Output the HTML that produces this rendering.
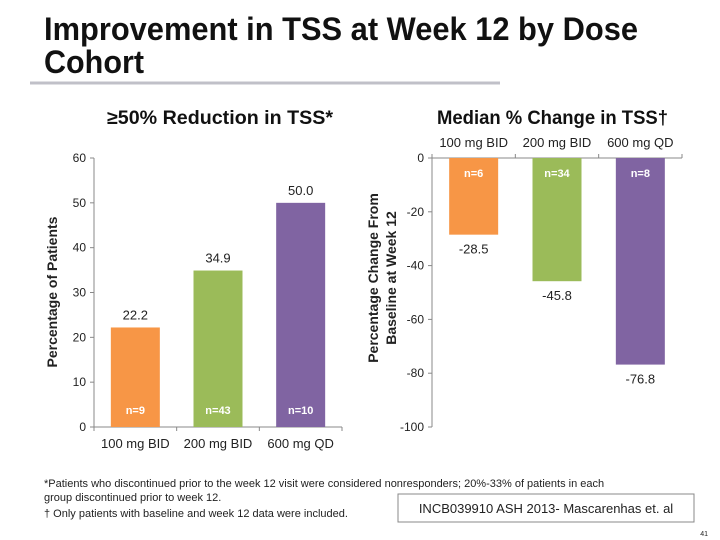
<!DOCTYPE html>
<html><head><meta charset="utf-8"><style>
body{margin:0;width:720px;height:540px;background:#fff;overflow:hidden;font-family:"Liberation Sans",sans-serif}
svg{position:absolute;left:0;top:0}
</style></head><body>
<svg width="720" height="540" xmlns="http://www.w3.org/2000/svg" font-family="Liberation Sans, sans-serif">
<text x="44" y="40" font-size="32" font-weight="bold" fill="#111" textLength="594" lengthAdjust="spacingAndGlyphs">Improvement in TSS at Week 12 by Dose</text>
<text x="44" y="73" font-size="32" font-weight="bold" fill="#111" textLength="100" lengthAdjust="spacingAndGlyphs">Cohort</text>
<line x1="30" y1="83" x2="500" y2="83" stroke="#c0c0c8" stroke-width="3"/>
<text x="107" y="124" font-size="19" font-weight="bold" fill="#111" textLength="226" lengthAdjust="spacingAndGlyphs">≥50% Reduction in TSS*</text>
<text x="437" y="124" font-size="19" font-weight="bold" fill="#111" textLength="231" lengthAdjust="spacingAndGlyphs">Median % Change in TSS†</text>
<g id="left"></g><g id="right"></g>
<text x="44" y="487" font-size="11" fill="#222">*Patients who discontinued prior to the week 12 visit were considered nonresponders; 20%-33% of patients in each</text>
<text x="44" y="501" font-size="11" fill="#222">group discontinued prior to week 12.</text>
<text x="44" y="517" font-size="11" fill="#222">† Only patients with baseline and week 12 data were included.</text>
<rect x="398" y="494" width="296" height="28" fill="#fff" stroke="#888"/>
<text x="546" y="513" font-size="13" text-anchor="middle" fill="#222">INCB039910 ASH 2013- Mascarenhas et. al</text>
<text x="708" y="536" font-size="7" text-anchor="end" fill="#222">41</text>
</svg>
<script>
const categories=["100 mg BID","200 mg BID","600 mg QD"];
const responseValues=[22.2,34.9,50.0];
const responseN=["n=9","n=43","n=10"];
const changeValues=[-28.5,-45.8,-76.8];
const changeN=["n=6","n=34","n=8"];
const leftTicks=[0,10,20,30,40,50,60];
const rightTicks=[0,-20,-40,-60,-80,-100];
const colors=["#f79646","#9bbb59","#8064a2"];
const NS="http://www.w3.org/2000/svg";
function mk(p,tag,a,txt){const e=document.createElementNS(NS,tag);for(const k in a)e.setAttribute(k,a[k]);if(txt!==undefined)e.textContent=txt;p.appendChild(e);return e;}
// left chart
const L=document.getElementById('left');
const lx0=94,lx1=342,ly=v=>427-v*(269/60),lcw=(lx1-lx0)/3;
let e=mk(L,'line',{x1:lx0,y1:ly(0),x2:lx0,y2:ly(60),stroke:'#888'});

e=mk(L,'line',{x1:lx0,y1:ly(0),x2:lx1,y2:ly(0),stroke:'#888'});

leftTicks.forEach(t=>{mk(L,'line',{x1:lx0-4,y1:ly(t),x2:lx0,y2:ly(t),stroke:'#888'});
 e=mk(L,'text',{x:lx0-8,y:ly(t)+4,'font-size':12,'text-anchor':'end',fill:'#222'},String(t));
 });
for(let i=0;i<=3;i++)mk(L,'line',{x1:lx0+i*lcw,y1:ly(0),x2:lx0+i*lcw,y2:ly(0)+4,stroke:'#888'});
categories.forEach((c,i)=>{const cx=lx0+lcw*(i+0.5),v=responseValues[i];
 e=mk(L,'rect',{x:cx-24.5,y:ly(v),width:49,height:ly(0)-ly(v),fill:colors[i]});
 
 e=mk(L,'text',{x:cx,y:ly(v)-8,'font-size':13,'text-anchor':'middle',fill:'#222'},v.toFixed(1));
 
 e=mk(L,'text',{x:cx,y:414,'font-size':11,'font-weight':'bold','text-anchor':'middle',fill:'#fff'},responseN[i]);
 
 e=mk(L,'text',{x:cx,y:448,'font-size':13,'text-anchor':'middle',fill:'#222'},c);
 });
e=mk(L,'text',{x:0,y:0,'font-size':14,'font-weight':'bold','text-anchor':'middle',fill:'#222',transform:'translate(57,292) rotate(-90)'},'Percentage of Patients');

// right chart
const R=document.getElementById('right');
const rx0=432,rx1=682,ry=v=>158-v*(269/100),rcw=(rx1-rx0)/3;
e=mk(R,'line',{x1:rx0,y1:ry(0),x2:rx0,y2:ry(-100),stroke:'#888'});

e=mk(R,'line',{x1:rx0,y1:ry(0),x2:rx1,y2:ry(0),stroke:'#888'});

rightTicks.forEach(t=>{mk(R,'line',{x1:rx0-4,y1:ry(t),x2:rx0,y2:ry(t),stroke:'#888'});
 e=mk(R,'text',{x:rx0-8,y:ry(t)+4,'font-size':12,'text-anchor':'end',fill:'#222'},String(t));
 });
for(let i=0;i<=3;i++)mk(R,'line',{x1:rx0+i*rcw,y1:ry(0),x2:rx0+i*rcw,y2:ry(0)-4,stroke:'#888'});
categories.forEach((c,i)=>{const cx=rx0+rcw*(i+0.5),v=changeValues[i];
 e=mk(R,'rect',{x:cx-24.5,y:ry(0),width:49,height:ry(v)-ry(0),fill:colors[i]});
 
 e=mk(R,'text',{x:cx,y:ry(v)+19,'font-size':13,'text-anchor':'middle',fill:'#222'},v.toFixed(1));
 
 e=mk(R,'text',{x:cx,y:177,'font-size':11,'font-weight':'bold','text-anchor':'middle',fill:'#fff'},changeN[i]);
 
 e=mk(R,'text',{x:cx,y:147,'font-size':13,'text-anchor':'middle',fill:'#222'},c);
 });
e=mk(R,'text',{x:0,y:0,'font-size':14,'font-weight':'bold','text-anchor':'middle',fill:'#222',transform:'translate(378,278) rotate(-90)'},'Percentage Change From');

e=mk(R,'text',{x:0,y:0,'font-size':14,'font-weight':'bold','text-anchor':'middle',fill:'#222',transform:'translate(396,278) rotate(-90)'},'Baseline at Week 12');

</script>
</body></html>
